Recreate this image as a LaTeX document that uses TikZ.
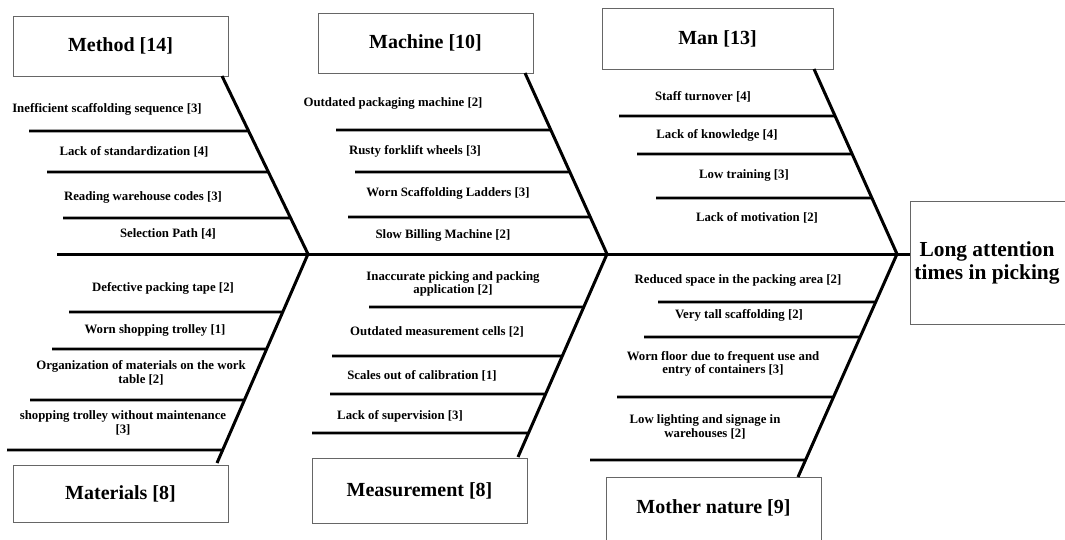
\documentclass[tikz,border=0pt]{standalone}
\usepackage{fontspec}
\setmainfont{Liberation Serif}
\begin{document}
\begin{tikzpicture}[x=1pt,y=-1pt,
  bone/.style={line width=3pt},
  sub/.style={line width=2.6pt},
  box/.style={draw=black!60,line width=0.9pt,fill=white,inner sep=0pt},
  title/.style={font=\bfseries\fontsize{20}{22}\selectfont},
  cause/.style={font=\bfseries\fontsize{12.8}{13.5}\selectfont,align=center,inner sep=0pt},
  head/.style={font=\bfseries\fontsize{21.4}{23}\selectfont,align=center,inner sep=0pt}]
\useasboundingbox (0,0) rectangle (1065,539);
\clip (0,0) rectangle (1065,539);

% category boxes
\node[box,title,minimum width=215pt,minimum height=60pt] (method) at (120.5,46) {Method [14]};
\node[box,title,minimum width=215pt,minimum height=60pt] (machine) at (425.5,43) {Machine [10]};
\node[box,title,minimum width=231pt,minimum height=61pt] (man) at (717.5,38.5) {Man [13]};
\node[box,title,minimum width=215pt,minimum height=57pt] (materials) at (120.5,493.5) {Materials [8]};
\node[box,title,minimum width=215pt,minimum height=65pt] (measure) at (419.5,490.5) {Measurement [8]};
\node[box,minimum width=215pt,minimum height=75pt] (mother) at (713.5,514.5) {};
\node[title] (mothert) at (713.5,508) {Mother nature [9]};
\node[box,minimum width=165pt,minimum height=123pt] (effect) at (992.5,262.5) {};
\node[head] (effectt) at (987,263) {Long attention\\times in picking};

% spine and joints
\coordinate (tail) at (57,254);
\coordinate (j1) at (308,254);
\coordinate (j2) at (607,254);
\coordinate (j3) at (897,254);
\draw[bone] (tail) -- (tail -| effect.west);

% main bones
\coordinate (mt) at (222,76);
\coordinate (ct) at (525,73);
\coordinate (nt) at (814,69);
\coordinate (at) at (217,463);
\coordinate (st) at (518,457);
\coordinate (ot) at (798,477);
\draw[bone] (mt) -- (j1);
\draw[bone] (ct) -- (j2);
\draw[bone] (nt) -- (j3);
\draw[bone] (at) -- (j1);
\draw[bone] (st) -- (j2);
\draw[bone] (ot) -- (j3);

% sub bones
\newcommand\subbones[3]{%
  \foreach \x/\y in {#1}
    \draw[sub] (\x,\y) -- (intersection cs: first line={(\x,\y)--(1000,\y)}, second line={(#2)--(#3)});}
\subbones{29/131,47/172,63/218}{mt}{j1}
\subbones{336/130,355/172,348/217}{ct}{j2}
\subbones{619/116,637/154,656/198}{nt}{j3}
\subbones{69/312,52/349,30/400,7/450}{at}{j1}
\subbones{369/307,332/356,330/394,312/433}{st}{j2}
\subbones{658/302,644/337,617/397,590/460}{ot}{j3}

% causes: Method
\node[cause] (c11) at (107,109) {Inefficient scaffolding sequence [3]};
\node[cause] (c12) at (134,152) {Lack of standardization [4]};
\node[cause] (c13) at (143,197) {Reading warehouse codes [3]};
\node[cause] (c14) at (168,234) {Selection Path [4]};
% Machine
\node[cause] (c21) at (393,103) {Outdated packaging machine [2]};
\node[cause] (c22) at (415,151) {Rusty forklift wheels [3]};
\node[cause] (c23) at (448,193) {Worn Scaffolding Ladders [3]};
\node[cause] (c24) at (443,235) {Slow Billing Machine [2]};
% Man
\node[cause] (c31) at (703,97) {Staff turnover [4]};
\node[cause] (c32) at (717,135) {Lack of knowledge [4]};
\node[cause] (c33) at (744,175) {Low training [3]};
\node[cause] (c34) at (757,218) {Lack of motivation [2]};
% Materials
\node[cause] (c41) at (163,288) {Defective packing tape [2]};
\node[cause] (c42) at (155,330) {Worn shopping trolley [1]};
\node[cause] (c43) at (141,373) {Organization of materials on the work\\table [2]};
\node[cause] (c44) at (123,423) {shopping trolley without maintenance\\{}[3]};
% Measurement
\node[cause] (c51) at (453,284) {Inaccurate picking and packing\\application [2]};
\node[cause] (c52) at (437,332) {Outdated measurement cells [2]};
\node[cause] (c53) at (422,376) {Scales out of calibration [1]};
\node[cause] (c54) at (400,416) {Lack of supervision [3]};
% Mother nature
\node[cause] (c61) at (738,280) {Reduced space in the packing area [2]};
\node[cause] (c62) at (739,315) {Very tall scaffolding [2]};
\node[cause] (c63) at (723,364) {Worn floor due to frequent use and\\entry of containers [3]};
\node[cause] (c64) at (705,427) {Low lighting and signage in\\warehouses [2]};
\end{tikzpicture}
\end{document}
